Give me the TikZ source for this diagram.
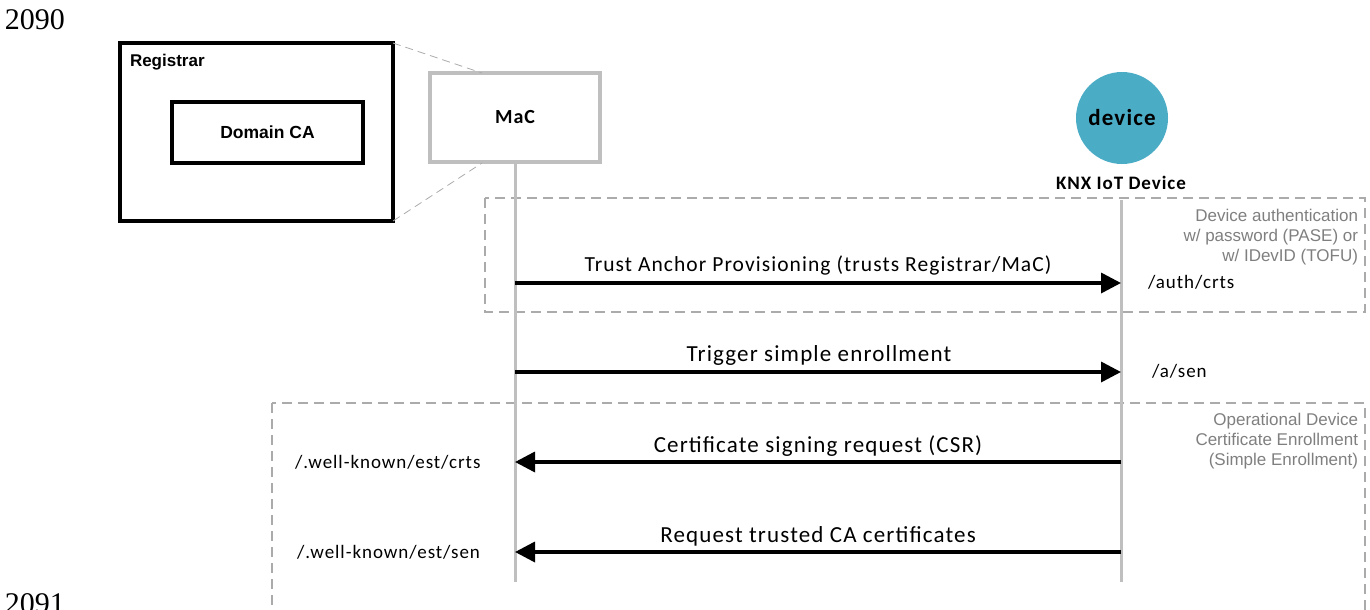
\documentclass[tikz,border=0pt]{standalone}
\usepackage{fontspec}
\newfontfamily\calfont[LetterSpace=5]{Carlito}
\newfontfamily\arialfont{Liberation Sans}
\newfontfamily\linefont{Liberation Serif}
\usetikzlibrary{arrows.meta}
\definecolor{devblue}{HTML}{4BACC6}
\definecolor{lifegray}{HTML}{BFBFBF}
\definecolor{boxgray}{HTML}{ABABAB}
\definecolor{labelgray}{HTML}{7F7F7F}

\begin{document}
\begin{tikzpicture}[x=1pt, y=-1pt,
    every node/.style={inner sep=0pt, outer sep=0pt},
    thickbox/.style={draw, rectangle, line width=4pt},
    lifeline/.style={draw=lifegray, line width=3pt},
    zoomline/.style={draw=boxgray, line width=0.8pt, dash pattern=on 8pt off 5pt},
    msg/.style={line width=3.5pt, -{Triangle[length=20pt,width=20pt]}},
    msglabel/.style={font=\calfont\fontsize{23}{26}\selectfont},
    uri/.style={font=\calfont\fontsize{19}{22}\selectfont},
    groupbox/.style={draw=boxgray, line width=1.3pt, dash pattern=on 10pt off 6pt},
    grouplabel/.style={font=\arialfont\fontsize{17}{20}\selectfont, text=labelgray, align=right}]

    \clip (0,0) rectangle (1370,610);

    % numeri di riga
    \node[anchor=base west, font=\linefont\fontsize{30}{34}\selectfont] (ln1) at (5,30) {2090};
    \node[anchor=base west, font=\linefont\fontsize{30}{34}\selectfont] (ln2) at (5,613) {2091};

    % Registrar e MaC
    \node[thickbox, minimum width=273pt, minimum height=178pt] (reg) at (256.5,132) {};
    \node[anchor=west, font=\arialfont\bfseries\fontsize{17}{18}\selectfont] (regtitle) at (130,62) {Registrar};
    \node[thickbox, line width=3.5pt, minimum width=191pt, minimum height=61pt,
          font=\arialfont\bfseries\fontsize{17.5}{20}\selectfont] (ca) at (267.5,132.5) {Domain CA};
    \node[thickbox, draw=lifegray, minimum width=170pt, minimum height=89pt,
          font=\calfont\bfseries\fontsize{20}{22}\selectfont] (mac) at (515,117.5) {MaC};
    \coordinate (zt) at (482,73);
    \coordinate (zb) at (482,163);
    \draw[zoomline] (reg.north east) -- (zt);
    \draw[zoomline] (reg.south east) -- (zb);

    % device
    \node[circle, fill=devblue, minimum size=92pt,
          font=\calfont\bfseries\fontsize{23}{26}\selectfont] (dev) at (1122,118) {device};
    \node[font=\calfont\bfseries\fontsize{19}{22}\selectfont] (knx) at (1121,183) {KNX IoT Device};

    % gruppi
    \draw[groupbox] (485,198) rectangle (1365,312);
    \draw[groupbox] (272,403) rectangle (1365,640);
    \node[grouplabel, anchor=north east] (auth) at (1358,209)
        {Device authentication\\w/ password (PASE) or\\w/ IDevID (TOFU)};
    \node[grouplabel, anchor=north east] (enrol) at (1358,413)
        {Operational Device\\Certificate Enrollment\\(Simple Enrollment)};

    % linee di vita
    \coordinate (macend) at (515,582);
    \coordinate (devtop) at (1121,200);
    \coordinate (devend) at (1121,582);
    \draw[lifeline] (mac.south) -- (macend);
    \draw[lifeline] (devtop) -- (devend);

    % messaggi
    \coordinate (m1) at (515,283);  \coordinate (d1) at (1121,283);
    \coordinate (m2) at (515,372);  \coordinate (d2) at (1121,372);
    \coordinate (m3) at (515,462);  \coordinate (d3) at (1121,462);
    \coordinate (m4) at (515,552);  \coordinate (d4) at (1121,552);
    \draw[msg] (m1) -- (d1);
    \draw[msg] (m2) -- (d2);
    \draw[msg] (d3) -- (m3);
    \draw[msg] (d4) -- (m4);
    \node[msglabel, font=\calfont\fontsize{21.5}{24}\selectfont] (t1) at (818,265) {Trust Anchor Provisioning (trusts Registrar/MaC)};
    \node[msglabel] (t2) at (819,355) {Trigger simple enrollment};
    \node[msglabel] (t3) at (818,446) {Certificate signing request (CSR)};
    \node[msglabel] (t4) at (818,536) {Request trusted CA certificates};

    % risorse
    \node[uri, anchor=west] (r1) at (1148,282) {/auth/crts};
    \node[uri, anchor=west] (r2) at (1152,371) {/a/sen};
    \node[uri, anchor=west] (r3) at (295,462) {/.well-known/est/crts};
    \node[uri, anchor=west] (r4) at (297,552) {/.well-known/est/sen};
\end{tikzpicture}
\end{document}
